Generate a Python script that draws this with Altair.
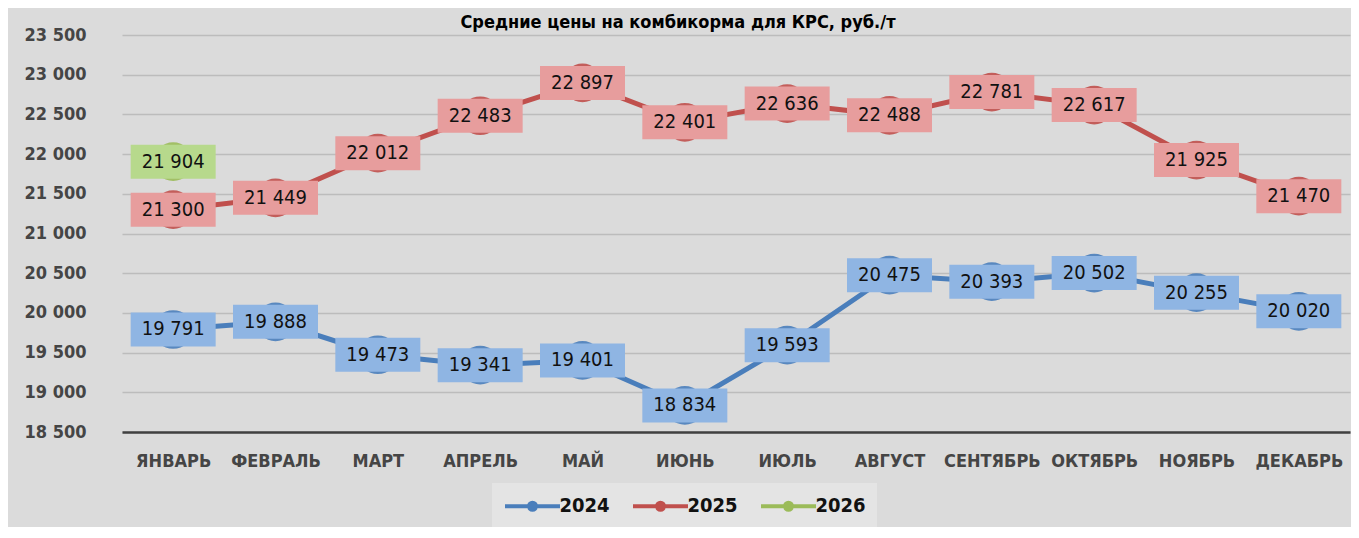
import altair as alt
import pandas as pd

months = ["ЯНВАРЬ", "ФЕВРАЛЬ", "МАРТ", "АПРЕЛЬ", "МАЙ", "ИЮНЬ",
          "ИЮЛЬ", "АВГУСТ", "СЕНТЯБРЬ", "ОКТЯБРЬ", "НОЯБРЬ", "ДЕКАБРЬ"]
years = ["2024", "2025", "2026"]
v2024 = [19791, 19888, 19473, 19341, 19401, 18834, 19593, 20475, 20393, 20502, 20255, 20020]
v2025 = [21300, 21449, 22012, 22483, 22897, 22401, 22636, 22488, 22781, 22617, 21925, 21470]
v2026 = [21904]
y_ticks = [18500, 19000, 19500, 20000, 20500, 21000, 21500, 22000, 22500, 23000, 23500]
title_text = "Средние цены на комбикорма для КРС, руб./т"

rows = []
for yr, vals in zip(years, [v2024, v2025, v2026]):
    for m, v in zip(months, vals):
        rows.append({"month": m, "year": yr, "value": v})
df = pd.DataFrame(rows)

line_colors = ["#4a7ebb", "#c0504d", "#9bbb59"]
box_colors = ["#8fb5e3", "#e79d9d", "#b7d98c"]
FONT = "DejaVu Sans Condensed, sans-serif"

x_enc = alt.X("month:N", sort=months, scale=alt.Scale(domain=months),
              axis=alt.Axis(title=None, ticks=False, grid=False, domain=True,
                            domainColor="#404040", domainWidth=2.5,
                            labelAngle=0, labelFontSize=18, labelFont=FONT,
                            labelFontWeight="bold", labelColor="#454545",
                            labelPadding=20))
y_enc = alt.Y("value:Q", scale=alt.Scale(domain=[18500, 23500], nice=False, zero=False),
              axis=alt.Axis(title=None, values=y_ticks, ticks=False, domain=False,
                            grid=True, gridColor="#bcbcbc", gridWidth=1.3,
                            labelFontSize=18, labelFont=FONT, labelColor="#454545",
                            labelFontWeight="bold", labelPadding=36,
                            labelExpr="replace(format(datum.value, ','), ',', ' ')"))

base = alt.Chart(df).encode(x=x_enc, y=y_enc)

# legend symbol: a 55px line with a dot, drawn around a 20px nominal symbol
legend_path = ("M-2.75,0H2.75M-0.35,0A0.35,0.35 0 1,0 0.35,0A0.35,0.35 0 1,0 -0.35,0")

lines = base.mark_line(strokeWidth=5).encode(
    color=alt.Color("year:N", scale=alt.Scale(domain=years, range=line_colors),
                    legend=alt.Legend(title=None, orient="none", direction="horizontal",
                                      legendX=370, legendY=448,
                                      symbolType=legend_path, symbolSize=400,
                                      symbolOffset=17.5,
                                      symbolStrokeWidth=4, labelFontSize=20,
                                      labelFont=FONT, labelFontWeight="bold",
                                      labelColor="#111111", labelOffset=15,
                                      columnPadding=15, padding=11,
                                      fillColor="#e4e4e4"))
)

circles = base.mark_circle(size=1500, opacity=0.9).encode(
    color=alt.Color("year:N", scale=alt.Scale(domain=years, range=line_colors), legend=None)
)

boxes = base.mark_point(shape="M-1,-0.4H1V0.4H-1Z", size=7225, filled=True, opacity=1).encode(
    fill=alt.Fill("year:N", scale=alt.Scale(domain=years, range=box_colors), legend=None)
)

labels = base.mark_text(fontSize=20, font=FONT, color="#111111").encode(
    text="label:N"
).transform_calculate(label="replace(format(datum.value, ','), ',', ' ')")

chart = alt.layer(lines, circles, boxes, labels).properties(
    width=1228, height=397,
    title=alt.TitleParams(title_text, fontSize=18, font=FONT, fontWeight="bold",
                          color="#000000", anchor="middle", offset=-6, dx=-58),
    autosize=alt.AutoSizeParams(type="none"),
    padding={"left": 114, "top": 27, "right": 1, "bottom": 95},
    background="#dbdbdb",
).configure_view(stroke=None)

chart.save("out.html", embed_options={"renderer": "svg", "actions": False})
